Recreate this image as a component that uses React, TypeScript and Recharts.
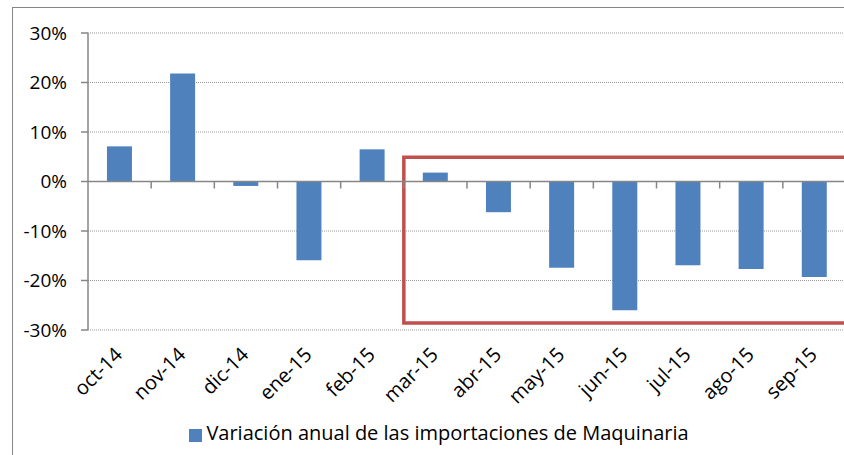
import React from "react";
import {
  BarChart,
  Bar,
  XAxis,
  YAxis,
  CartesianGrid,
  Legend,
  ReferenceLine,
  ReferenceArea,
} from "recharts";

const months = [
  "oct-14",
  "nov-14",
  "dic-14",
  "ene-15",
  "feb-15",
  "mar-15",
  "abr-15",
  "may-15",
  "jun-15",
  "jul-15",
  "ago-15",
  "sep-15",
];
const variation = [
  0.071, 0.218, -0.009, -0.159, 0.065, 0.018, -0.062, -0.174, -0.26, -0.169,
  -0.177, -0.193,
];
const yTicks = [-0.3, -0.2, -0.1, 0, 0.1, 0.2, 0.3];
const seriesName = "Variación anual de las importaciones de Maquinaria";
// highlighted period (red box)
const boxFrom = "mar-15";
const boxTo = "sep-15";
const boxLow = -0.286;
const boxHigh = 0.049;

const data = months.map((m, i) => ({ month: m, value: variation[i] }));

const FONT = '"Open Sans", sans-serif';
const GRAY = "#868686";

const MonthTick = (props: any) => {
  const { x, y, payload } = props;
  const ax = x + 4;
  const ay = y + 26;
  return (
    <text
      x={ax}
      y={ay}
      transform={`rotate(-45 ${ax} ${ay})`}
      textAnchor="end"
      fontSize={20}
      fontFamily={FONT}
      fill="#000"
    >
      {payload.value}
    </text>
  );
};

// zero line doubles as the category axis, with tick marks between months
const ZeroAxis = (props: any) => {
  const { x1, x2, y1 } = props;
  const step = (x2 - x1) / months.length;
  return (
    <g>
      <line x1={x1} y1={y1} x2={x2} y2={y1} stroke={GRAY} strokeWidth={1.5} />
      {months.map((_, i) => (
        <line
          key={i}
          x1={x1 + step * (i + 1)}
          x2={x1 + step * (i + 1)}
          y1={y1}
          y2={y1 + 7}
          stroke={GRAY}
          strokeWidth={1.5}
        />
      ))}
    </g>
  );
};

export default function App() {
  return (
    <div
      style={{
        position: "fixed",
        left: 0,
        top: 0,
        width: 844,
        height: 455,
        overflow: "hidden",
        background: "#fff",
        fontFamily: FONT,
      }}
    >
      <div
        style={{
          position: "absolute",
          left: 12,
          top: 7,
          width: 900,
          height: 500,
          border: `1px solid ${GRAY}`,
          boxSizing: "border-box",
        }}
      />
      <div style={{ position: "absolute", left: 0, top: 0 }}>
        <BarChart
          width={900}
          height={470}
          data={data}
          margin={{ top: 33, right: 54, bottom: 24, left: 8 }}
          barCategoryGap="30%"
        >
          <CartesianGrid
            vertical={false}
            stroke="#999"
            strokeDasharray="1 1"
          />
          <XAxis
            dataKey="month"
            axisLine={false}
            tickLine={false}
            tickSize={0}
            tickMargin={0}
            interval={0}
            height={89}
            tick={<MonthTick />}
          />
          <YAxis
            width={80}
            domain={[-0.3, 0.3]}
            ticks={yTicks}
            interval={0}
            allowDataOverflow
            tickFormatter={(v: number) => `${Math.round(v * 100)}%`}
            axisLine={{ stroke: GRAY, strokeWidth: 1.5 }}
            tickLine={{ stroke: GRAY, strokeWidth: 1.5 }}
            tickSize={7}
            tickMargin={14}
            tick={{ fill: "#000", fontSize: 19, fontFamily: FONT }}
          />
          <Bar
            dataKey="value"
            name={seriesName}
            fill="#4F81BD"
            isAnimationActive={false}
          />
          <ReferenceLine y={0} stroke={GRAY} shape={ZeroAxis} />
          <ReferenceArea
            x1={boxFrom}
            x2={boxTo}
            y1={boxLow}
            y2={boxHigh}
            fill="none"
            fillOpacity={0}
            stroke="#C0504D"
            strokeWidth={3.5}
          />
          <Legend
            verticalAlign="bottom"
            align="center"
            iconType="square"
            iconSize={13}
            wrapperStyle={{ left: 25, fontFamily: FONT }}
            formatter={(v: any) => (
              <span style={{ color: "#000", fontSize: 20 }}>{v}</span>
            )}
          />
        </BarChart>
      </div>
    </div>
  );
}
